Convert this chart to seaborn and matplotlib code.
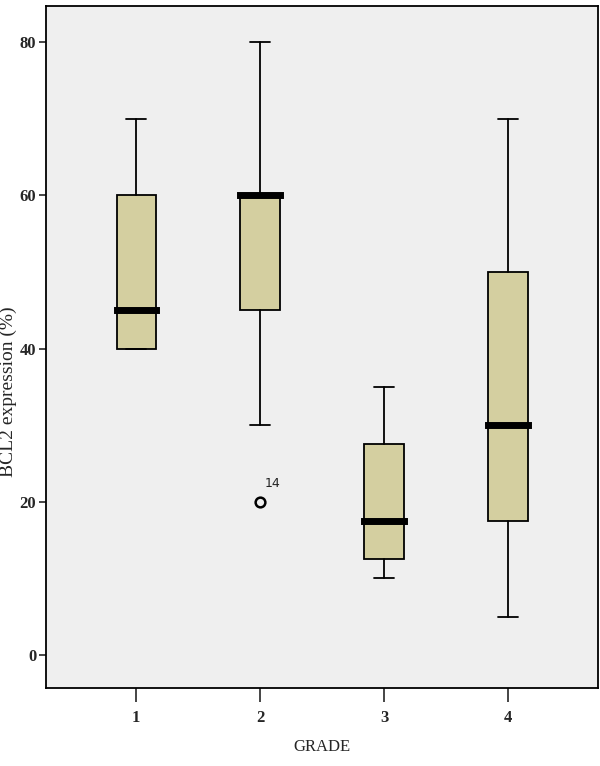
import matplotlib
matplotlib.use("Agg")
import matplotlib.pyplot as plt
import seaborn as sns

# values (five-number summaries per grade)
grades = ["1", "2", "3", "4"]
whisker_low = [40, 30, 10, 5]
q1 = [40, 45, 12.5, 17.5]
medians = [45, 60, 17.5, 30]
q3 = [60, 60, 27.5, 50]
whisker_high = [70, 80, 35, 70]
outliers = [[], [20], [], []]
outlier_labels = {1: "14"}

sns.set_style("ticks")
plt.rcParams["font.family"] = ["Liberation Serif", "DejaVu Serif"]

stats = []
for i, g in enumerate(grades):
    stats.append({
        "label": g,
        "whislo": whisker_low[i],
        "q1": q1[i],
        "med": medians[i],
        "q3": q3[i],
        "whishi": whisker_high[i],
        "fliers": outliers[i],
    })

fig = plt.figure(figsize=(6, 7.66), dpi=100)
ax = fig.add_axes([0.0767, 0.1018, 0.92, 0.8903])
ax.set_facecolor("#efefef")

ax.bxp(
    stats,
    positions=range(len(grades)),
    widths=0.315,
    capwidths=0.155,
    patch_artist=True,
    boxprops=dict(facecolor="#d4cfa0", edgecolor="black", linewidth=1.3),
    whiskerprops=dict(color="black", linewidth=1.3),
    capprops=dict(color="black", linewidth=1.3),
    medianprops=dict(color="black", linewidth=5, solid_capstyle="projecting"),
    flierprops=dict(marker="o", markerfacecolor="none", markeredgecolor="black",
                    markersize=7, markeredgewidth=1.8),
)

for i, lab in outlier_labels.items():
    for v in outliers[i]:
        ax.text(i + 0.04, v + 1.6, lab, fontsize=9, family="DejaVu Sans",
                ha="left", va="bottom", color="#222222")

ax.set_xlim(-0.726, 3.726)
ax.set_ylim(-4.3, 84.7)
ax.set_yticks([0, 20, 40, 60, 80])
ax.set_xticks(range(len(grades)))
ax.set_xticklabels(grades)

for side in ["top", "right", "left", "bottom"]:
    ax.spines[side].set_visible(True)
    ax.spines[side].set_linewidth(1.3)
    ax.spines[side].set_color("black")

ax.tick_params(axis="y", length=5, width=1.2, labelsize=12, pad=2)
ax.tick_params(axis="x", length=10, width=1.2, labelsize=12, pad=6)
for t in ax.get_xticklabels() + ax.get_yticklabels():
    t.set_fontweight("bold")

ax.set_xlabel("GRADE", fontsize=12)
ax.set_ylabel("BCL2 expression (%)", fontsize=14)
ax.xaxis.set_label_coords(0.5, -0.075)
ax.yaxis.set_label_coords(-0.052, 0.434)

fig.savefig("out.png", dpi=100, facecolor="white")
